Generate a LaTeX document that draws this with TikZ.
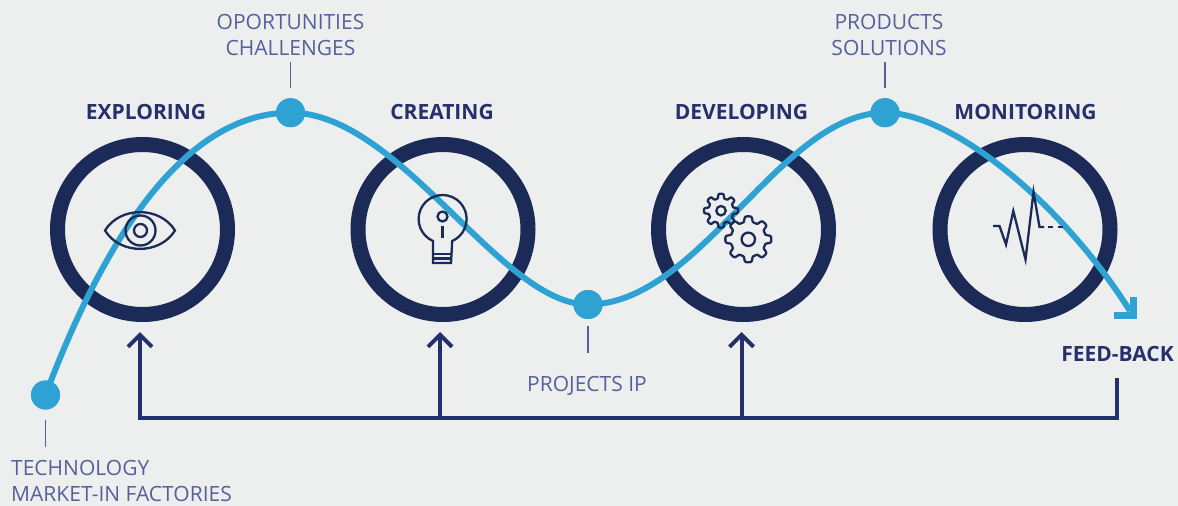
\documentclass[tikz,border=0pt]{standalone}
\usepackage{fontspec}
\setmainfont{Open Sans}
\usetikzlibrary{arrows.meta}
\definecolor{bg}{HTML}{EDEFEF}
\definecolor{navy}{HTML}{1B2A57}
\definecolor{sky}{HTML}{2EA3D3}
\definecolor{headc}{HTML}{28306C}
\definecolor{lblc}{HTML}{56609A}
\definecolor{fbc}{HTML}{242F6D}
\begin{document}
\begin{tikzpicture}[x=1pt,y=-1pt,
  ring/.style={circle, draw=navy, line width=15pt, minimum size=170pt, inner sep=0pt},
  dot/.style={circle, fill=sky, minimum size=29pt, inner sep=0pt},
  curve/.style={draw=sky, line width=6pt},
  head/.style={font=\fontsize{21}{26}\selectfont\bfseries, text=headc, inner sep=0pt, anchor=base},
  lbl/.style={font=\fontsize{21}{26}\selectfont, text=lblc, inner sep=0pt, align=center},
  leader/.style={draw=lblc, line width=1.2pt},
  fb/.style={draw=fbc, line width=4pt},
  fbtip/.style={-{Straight Barb[length=12pt,width=24pt]}},
  icon/.style={draw=navy, line width=2.3pt, line join=miter}
]
\fill[bg] (0,0) rectangle (1178,506);
\useasboundingbox (0,0) rectangle (1178,506);

% feedback loop
\coordinate (fbtop) at (1117,378);
\coordinate (fbbase) at (0,418);
\coordinate (a1) at (140,332);
\coordinate (a2) at (440,332);
\coordinate (a3) at (741.5,332);
\draw[fb, fbtip] (fbtop) -- (fbtop |- fbbase) -- (a1 |- fbbase) -- (a1);
\draw[fb, fbtip] (a2 |- fbbase) -- (a2);
\draw[fb, fbtip] (a3 |- fbbase) -- (a3);

% rings
\node[ring] (c1) at (142.5,229.5) {};
\node[ring] (c2) at (443,229.5) {};
\node[ring] (c3) at (743.5,229.5) {};
\node[ring] (c4) at (1025,229.5) {};

% dots
\node[dot] (d0) at (45.5,395) {};
\node[dot] (d1) at (290.5,112.7) {};
\node[dot] (d2) at (588,304.5) {};
\node[dot] (d3) at (885,112.7) {};
\coordinate (cend) at (1130,311);
\coordinate (tipc) at (1133.5,315.8);

% curve
\draw[curve] (d0.center) .. controls (100,250) and (180,112.7) .. (d1.center)
  .. controls (400,112.7) and (500,304.5) .. (d2.center)
  .. controls (700,304.5) and (780,112.7) .. (d3.center)
  .. controls (950,112.7) and (1060,200) .. (cend);
\draw[draw=sky, line width=7pt, line join=miter] (tipc) ++(-20,0) -- (tipc) -- ++(0,-19);
\node[dot] at (d0) {};
\node[dot] at (d1) {};
\node[dot] at (d2) {};
\node[dot] at (d3) {};

% icons: eye
\draw[icon] (105,230.5) .. controls (120,206) and (160,206) .. (175,230.5)
  .. controls (160,255) and (120,255) .. cycle;
\draw[icon] (140.5,230.5) circle[radius=15];
\draw[icon] (140.5,230.5) circle[radius=6.5];

% bulb
\draw[icon] (433,263) -- (433,241) arc[start angle=113.6, end angle=426.4, radius=24] -- (451,263) -- cycle;
\draw[icon] (433,254) -- (451,254);
\draw[icon] (433,258.5) -- (451,258.5);
\draw[icon] (442.5,216.5) circle[radius=5];
\draw[icon] (442.5,226) -- (442.5,238);

% gears
\begin{scope}[shift={(721,210.7)}]
\draw[icon, line join=round] plot[domain=0:360, samples=241] (\x:{12.5+4.5*(0.5+0.5*tanh(2.5*cos(8*\x)))}) -- cycle;
\draw[icon] (0,0) circle[radius=4.7];
\end{scope}
\begin{scope}[shift={(748.3,239.3)}]
\draw[icon, line join=round] plot[domain=0:360, samples=241] (\x:{17.5+5.5*(0.5+0.5*tanh(2.5*cos(8*\x)))}) -- cycle;
\draw[icon] (0,0) circle[radius=6.7];
\end{scope}

% monitor pulse
\draw[icon] (993,226) -- (999.5,226) -- (1006,244.5) -- (1013.3,211) -- (1025.5,259.5) -- (1033.5,192) -- (1039.5,227) -- (1044,227);
\draw[icon, dash pattern=on 5pt off 5pt] (1048,227) -- (1063,227);

% headers
\node[head] (hexp) at (146,119) {EXPLORING};
\node[head] (hcre) at (442,119) {CREATING};
\node[head] (hdev) at (741.5,119) {DEVELOPING};
\node[head] (hmon) at (1025.5,119) {MONITORING};
\node[head] (hfb) at (1117.5,361) {FEED-BACK};

% labels
\node[lbl, anchor=south] (lopp) at (290.5,55.5) {OPORTUNITIES\\CHALLENGES};
\node[lbl, anchor=south] (lprod) at (889,55.5) {PRODUCTS\\SOLUTIONS};
\node[lbl, anchor=base] (lproj) at (587,391) {PROJECTS IP};
\node[lbl, anchor=south west, align=left] (ltech) at (11,502) {TECHNOLOGY\\MARKET-IN FACTORIES};

% leaders
\draw[leader] (d1.north) ++(0,-10) -- ++(0,-26.5);
\draw[leader] (d3.north) ++(0,-10) -- ++(0,-26.5);
\draw[leader] (d2.south) ++(0,7) -- ++(0,26.5);
\draw[leader] (d0.south) ++(0,10.5) -- ++(0,27);
\end{tikzpicture}
\end{document}
